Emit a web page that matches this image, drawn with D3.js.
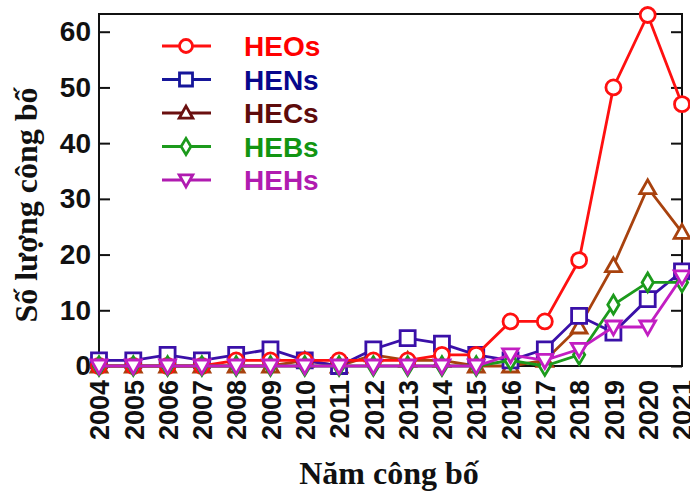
<!DOCTYPE html>
<html>
<head>
<meta charset="utf-8">
<script src="https://cdn.jsdelivr.net/npm/d3@7"></script>
<style>
  body { margin: 0; background: #fff; }
  svg { display: block; }
</style>
</head>
<body>
<div id="chart"></div>
<script>
// Data
var years = [2004, 2005, 2006, 2007, 2008, 2009, 2010, 2011, 2012, 2013, 2014, 2015, 2016, 2017, 2018, 2019, 2020, 2021];
var heo = [0, 0, 0, 0, 1, 1, 1, 1, 1, 1, 2, 2, 8, 8, 19, 50, 63, 47];
var hen = [1, 1, 2, 1, 2, 3, 1, 0, 3, 5, 4, 2, 1, 3, 9, 6, 12, 17];
var hec = [0, 0, 0, 0, 0, 0, 1, 0, 2, 1, 1, 0, 0, 1, 7, 18, 32, 24];
var heb = [0, 0, 0, 0, 0, 0, 0, 0, 0, 0, 0, 0, 1, 0, 2, 11, 15, 15];
var heh = [0, 0, 0, 0, 0, 0, 0, 0, 0, 0, 0, 0, 2, 1, 3, 7, 7, 16];
var yTicks = [0, 10, 20, 30, 40, 50, 60];

var series = [
	{ name: "HECs", values: hec, line: "#a8420e", text: "#5e0b0b", shape: "triangle" },
	{ name: "HENs", values: hen, line: "#3a10a8", text: "#07078c", shape: "square" },
	{ name: "HEOs", values: heo, line: "#ff1010", text: "#ff0000", shape: "circle" },
	{ name: "HEBs", values: heb, line: "#1c9a1c", text: "#129512", shape: "diamond" },
	{ name: "HEHs", values: heh, line: "#c21ec2", text: "#b01bb0", shape: "down" }
];
var legendOrder = ["HEOs", "HENs", "HECs", "HEBs", "HEHs"];
var legendLine = { HEOs: "#ff1010", HENs: "#16169a", HECs: "#6a0f0f", HEBs: "#1c9a1c", HEHs: "#b01bb0" };

var width = 690, height = 492;
var x0 = 99, x1 = 682, yTop = 15, yBot = 366;

var svg = d3.select("#chart").append("svg")
	.attr("width", width)
	.attr("height", height);

var x = d3.scaleLinear().domain([2004, 2021]).range([x0, x1]);
var y = d3.scaleLinear().domain([0, 63]).range([yBot, yTop]);

// marker path for a shape
function markerPath(shape, s) {
	if (shape == "circle") return d3.symbol(d3.symbolCircle, Math.PI * s * s)();
	if (shape == "square") return d3.symbol(d3.symbolSquare, (2 * s) * (2 * s))();
	if (shape == "triangle") return "M0," + (-s * 1.05) + "L" + (s * 1.05) + "," + (s * 0.8) + "L" + (-s * 1.05) + "," + (s * 0.8) + "Z";
	if (shape == "down") return "M0," + (s * 1.05) + "L" + (s * 1.05) + "," + (-s * 0.8) + "L" + (-s * 1.05) + "," + (-s * 0.8) + "Z";
	if (shape == "diamond") return "M0," + (-s * 1.25) + "L" + (s * 0.75) + ",0L0," + (s * 1.25) + "L" + (-s * 0.75) + ",0Z";
}

// frame
svg.append("rect")
	.attr("x", x0).attr("y", yTop - 1)
	.attr("width", x1 - x0).attr("height", yBot - yTop + 1)
	.attr("fill", "none")
	.attr("stroke", "#111")
	.attr("stroke-width", 2);

// y axis (left) with inward ticks
var yAxis = d3.axisLeft(y).tickValues(yTicks).tickSize(-11).tickPadding(9);
var gy = svg.append("g").attr("transform", "translate(" + x0 + ",0)").call(yAxis);
gy.select(".domain").remove();
gy.selectAll(".tick line").attr("stroke", "#111").attr("stroke-width", 2);
gy.selectAll(".tick text")
	.attr("font-family", "Liberation Sans, Arial, sans-serif")
	.attr("font-weight", "bold")
	.attr("font-size", 28)
	.attr("fill", "#111")
	.attr("x", -8);

// right axis ticks
var yAxisR = d3.axisRight(y).tickValues(yTicks).tickSize(-11).tickFormat("");
var gr = svg.append("g").attr("transform", "translate(" + x1 + ",0)").call(yAxisR);
gr.select(".domain").remove();
gr.selectAll(".tick line").attr("stroke", "#111").attr("stroke-width", 2);

// x axis labels (rotated)
var xAxis = d3.axisBottom(x).tickValues(years).tickFormat(d3.format("d")).tickSize(0);
var gx = svg.append("g").attr("transform", "translate(0," + yBot + ")").call(xAxis);
gx.select(".domain").remove();
gx.selectAll(".tick text")
	.attr("font-family", "Liberation Sans, Arial, sans-serif")
	.attr("font-weight", "bold")
	.attr("font-size", 27)
	.attr("fill", "#111")
	.attr("transform", "rotate(-90)")
	.attr("text-anchor", "end")
	.attr("x", -14)
	.attr("y", 0)
	.attr("dy", "0.36em");

// series
var line = d3.line()
	.x(function(d, i) { return x(years[i]); })
	.y(function(d) { return y(d); });

series.forEach(function(s) {
	var g = svg.append("g");
	g.append("path")
		.datum(s.values)
		.attr("d", line)
		.attr("fill", "none")
		.attr("stroke", s.line)
		.attr("stroke-width", 2.8);
	g.selectAll("path.m")
		.data(s.values)
		.enter().append("path")
		.attr("class", "m")
		.attr("d", markerPath(s.shape, 7.5))
		.attr("transform", function(d, i) { return "translate(" + x(years[i]) + "," + y(d) + ")"; })
		.attr("fill", "#fff")
		.attr("stroke", s.line)
		.attr("stroke-width", 2.8);
});

// legend
var lg = svg.append("g");
legendOrder.forEach(function(name, i) {
	var s = series.filter(function(d) { return d.name == name; })[0];
	var ly = 46 + i * 33.5;
	lg.append("line")
		.attr("x1", 162).attr("x2", 211)
		.attr("y1", ly).attr("y2", ly)
		.attr("stroke", legendLine[name])
		.attr("stroke-width", 2.8);
	lg.append("path")
		.attr("d", markerPath(s.shape, 6.5))
		.attr("transform", "translate(186," + ly + ")")
		.attr("fill", "#fff")
		.attr("stroke", legendLine[name])
		.attr("stroke-width", 2.8);
	lg.append("text")
		.attr("x", 244).attr("y", ly)
		.attr("dy", "0.36em")
		.attr("font-family", "Liberation Sans, Arial, sans-serif")
		.attr("font-weight", "bold")
		.attr("font-size", 28)
		.attr("fill", s.text)
		.text(name);
});

// axis titles
svg.append("text")
	.attr("transform", "translate(37,205) rotate(-90)")
	.attr("text-anchor", "middle")
	.attr("font-family", "Liberation Serif, Times New Roman, serif")
	.attr("font-weight", "bold")
	.attr("font-size", 32)
	.attr("fill", "#111")
	.text("Số lượng công bố");

svg.append("text")
	.attr("x", 389).attr("y", 484)
	.attr("text-anchor", "middle")
	.attr("font-family", "Liberation Serif, Times New Roman, serif")
	.attr("font-weight", "bold")
	.attr("font-size", 32)
	.attr("fill", "#111")
	.text("Năm công bố");
</script>
</body>
</html>
